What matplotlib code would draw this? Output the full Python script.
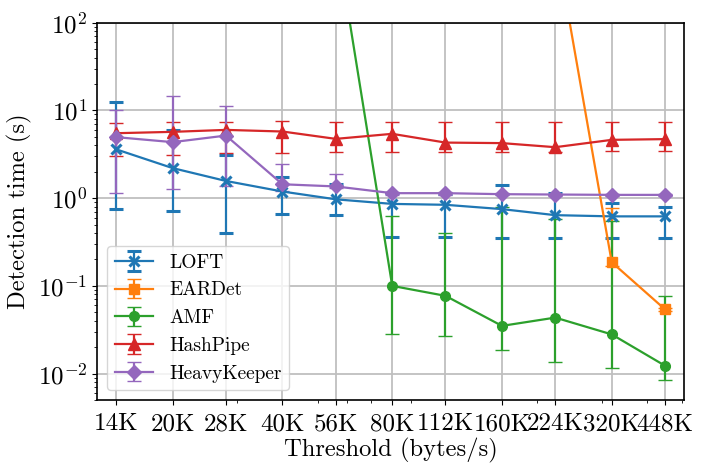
import matplotlib
matplotlib.use("Agg")
import matplotlib.pyplot as plt
import matplotlib.ticker
import numpy as np

plt.rcParams['font.family'] = 'serif'
plt.rcParams['font.serif'] = ['cmr10']
plt.rcParams['mathtext.fontset'] = 'cm'
plt.rcParams['axes.unicode_minus'] = False
plt.rcParams['axes.formatter.use_mathtext'] = True

thresholds = [14000, 20000, 28000, 40000, 56000, 80000, 112000, 160000, 224000, 320000, 448000]
threshold_labels = ['14K', '20K', '28K', '40K', '56K', '80K', '112K', '160K', '224K', '320K', '448K']

# mean / lower / upper of detection time (s)
loft = [3.6, 2.2, 1.57, 1.19, 0.97, 0.86, 0.84, 0.75, 0.64, 0.62, 0.62]
loft_lo = [0.75, 0.71, 0.40, 0.66, 0.64, 0.365, 0.36, 0.35, 0.35, 0.35, 0.35]
loft_hi = [12.4, 6.0, 3.09, 1.73, 1.44, 1.15, 1.13, 1.42, 1.16, 0.89, 0.80]

eardet = [1500, 1450, 1400, 1300, 1200, 1100, 1000, 950, 870, 0.186, 0.054]
eardet_lo = [1200, 1150, 1100, 1050, 1000, 900, 850, 800, 750, 0.17, 0.052]
eardet_hi = [1800, 1750, 1700, 1600, 1500, 1400, 1300, 1200, 1100, 0.78, 0.056]

amf = [1400, 1350, 1250, 1150, 1000, 0.1, 0.077, 0.035, 0.0435, 0.028, 0.0123]
amf_lo = [1100, 1050, 1000, 900, 800, 0.028, 0.027, 0.0186, 0.0134, 0.0117, 0.0084]
amf_hi = [1700, 1650, 1550, 1450, 1300, 0.63, 0.405, 0.80, 0.586, 0.555, 0.077]

hashpipe = [5.5, 5.7, 6.0, 5.75, 4.74, 5.41, 4.3, 4.24, 3.81, 4.62, 4.71]
hashpipe_lo = [3.04, 3.14, 3.26, 3.31, 3.37, 3.4, 3.4, 3.4, 3.4, 3.49, 3.49]
hashpipe_hi = [7.2, 7.3, 7.4, 7.55, 7.4, 7.4, 7.4, 7.4, 7.4, 7.4, 7.4]

heavykeeper = [4.96, 4.35, 5.17, 1.44, 1.36, 1.14, 1.14, 1.11, 1.10, 1.09, 1.09]
heavykeeper_lo = [1.16, 1.27, 1.39, 1.2, 1.3, 1.1, 1.1, 1.08, 1.07, 1.06, 1.06]
heavykeeper_hi = [10.2, 14.7, 11.3, 2.46, 1.89, 1.18, 1.18, 1.15, 1.13, 1.12, 1.12]

series = [
    ("LOFT", loft, loft_lo, loft_hi, '#1f77b4', 'x', 7),
    ("EARDet", eardet, eardet_lo, eardet_hi, '#ff7f0e', 's', 6.5),
    ("AMF", amf, amf_lo, amf_hi, '#2ca02c', 'o', 7),
    ("HashPipe", hashpipe, hashpipe_lo, hashpipe_hi, '#d62728', '^', 8),
    ("HeavyKeeper", heavykeeper, heavykeeper_lo, heavykeeper_hi, '#9467bd', 'D', 7),
]

fig = plt.figure(figsize=(7.06, 4.71), dpi=100)
ax = fig.add_axes([0.1374, 0.1507, 0.9688 - 0.1374, 0.9518 - 0.1507])

for name, vals, lo, hi, color, marker, ms in series:
    vals = np.array(vals)
    yerr = [vals - np.array(lo), np.array(hi) - vals]
    ax.errorbar(thresholds, vals, yerr=yerr, color=color, marker=marker,
                markersize=ms, markeredgewidth=2.2 if marker == 'x' else 1,
                linewidth=1.6, elinewidth=1.6, capsize=5, capthick=1.6,
                label=name)

ax.set_xscale('log')
ax.set_yscale('log')
ax.set_ylim(0.005, 100)
ax.set_xlim(12400, 505000)
ax.set_xticks(thresholds)
ax.set_xticklabels(threshold_labels)
ax.xaxis.set_minor_formatter(matplotlib.ticker.NullFormatter())
ax.grid(True, which='major', color='#bfbfbf', linewidth=1.3)
ax.set_axisbelow(True)
for sp in ax.spines.values():
    sp.set_linewidth(1.2)

ax.tick_params(axis='both', which='major', labelsize=18)
ax.tick_params(axis='x', which='major', pad=6)
ax.set_xlabel("Threshold (bytes/s)", fontsize=17.7, labelpad=2)
ax.set_ylabel("Detection time (s)", fontsize=17.7)
ax.legend(loc='lower left', fontsize=14, framealpha=0.8)

plt.savefig("out.png", dpi=100)
